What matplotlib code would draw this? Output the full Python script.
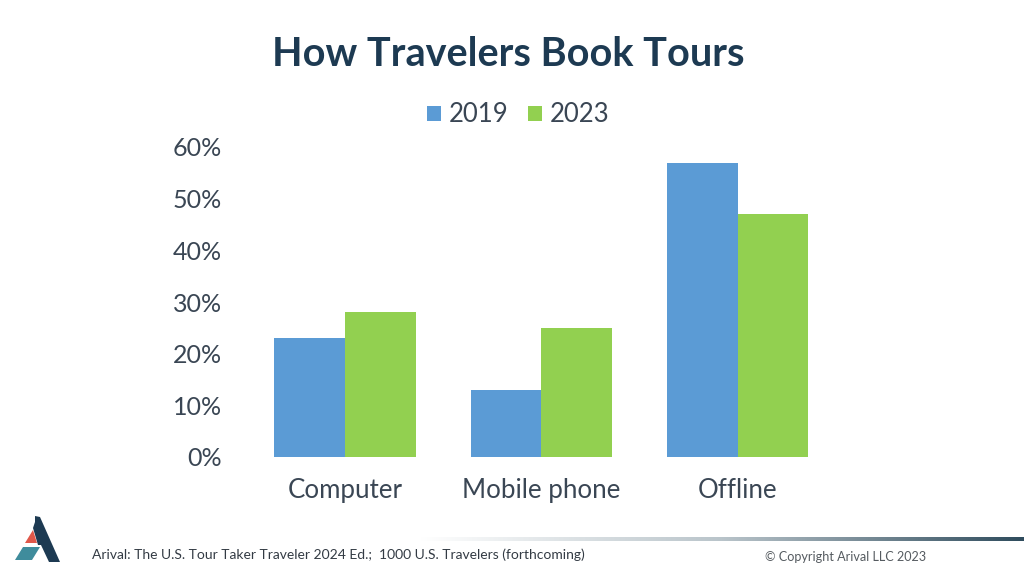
import matplotlib
matplotlib.use("Agg")
import matplotlib.pyplot as plt
import numpy as np
from matplotlib.patches import Polygon
from matplotlib.colors import LinearSegmentedColormap

categories = ["Computer", "Mobile phone", "Offline"]
series_names = ["2019", "2023"]
values_2019 = [0.23, 0.13, 0.57]
values_2023 = [0.28, 0.25, 0.47]
yticks = [0, 0.1, 0.2, 0.3, 0.4, 0.5, 0.6]
ytick_labels = ["0%", "10%", "20%", "30%", "40%", "50%", "60%"]

BLUE = "#5b9bd5"
GREEN = "#92d050"
NAVY = "#1d3a52"
TXT = "#3a4654"

plt.rcParams['font.family'] = ['Lato', 'DejaVu Sans']

W, H = 1024, 576
fig = plt.figure(figsize=(W / 100, H / 100), dpi=100)
fig.patch.set_facecolor("white")

def fx(px):
    return px / W

def fy(py):
    return 1 - py / H

ax = fig.add_axes([fx(262), fy(457), fx(836) - fx(262), fy(147) - fy(457)])
x = np.arange(len(categories))
bw = 0.36
ax.bar(x - bw / 2, values_2019, width=bw, color=BLUE, label=series_names[0])
ax.bar(x + bw / 2, values_2023, width=bw, color=GREEN, label=series_names[1])
ax.set_xlim(-0.422, 2.5)
ax.set_ylim(0, 0.6)
ax.set_yticks(yticks)
ax.set_yticklabels(ytick_labels)
ax.set_xticks(x)
ax.set_xticklabels(categories)
for s in ax.spines.values():
    s.set_visible(False)
ax.tick_params(axis='both', length=0, colors=TXT)
ax.tick_params(axis='y', pad=29, labelsize=18)
ax.tick_params(axis='x', pad=15, labelsize=18.6)

leg = fig.legend(loc='center', bbox_to_anchor=(fx(518), fy(115)), ncol=2, frameon=False,
                 fontsize=18.5, handlelength=0.55, handleheight=0.55, handletextpad=0.3,
                 columnspacing=0.75, labelcolor=TXT)

fig.text(fx(508), fy(55), "How Travelers Book Tours", ha='center', va='center',
         fontsize=28.5, fontweight='bold', color=NAVY)

fig.text(fx(92), fy(555), "Arival: The U.S. Tour Taker Traveler 2024 Ed.;  1000 U.S. Travelers (forthcoming)",
         ha='left', va='center', fontsize=10, color="#333b44")
fig.text(fx(765), fy(557), "\u00a9 Copyright Arival LLC 2023", ha='left', va='center',
         fontsize=9.1, color="#555b60")

# gradient rule line
gax = fig.add_axes([fx(420), fy(541), fx(1024) - fx(420), fy(537) - fy(541)])
cmap = LinearSegmentedColormap.from_list("g", ["#ffffff", "#b9c4ca", "#2f4c5d"])
gax.imshow(np.linspace(0, 1, 256)[None, :], aspect='auto', cmap=cmap)
gax.axis('off')

# logo
def poly(pts, color):
    fig.patches.append(Polygon([(fx(a), fy(b)) for a, b in pts], closed=True,
                               transform=fig.transFigure, color=color, lw=0))
poly([(35, 516), (40, 517), (60, 562), (49, 562), (41, 545), (38, 545), (33, 528), (35, 522)], "#1d3a52")
poly([(25, 543), (33, 530), (37, 543)], "#e0584a")
poly([(15, 560), (23, 547), (40, 547), (32, 560)], "#3f8c9c")

fig.savefig("out.png", dpi=100, facecolor="white")
